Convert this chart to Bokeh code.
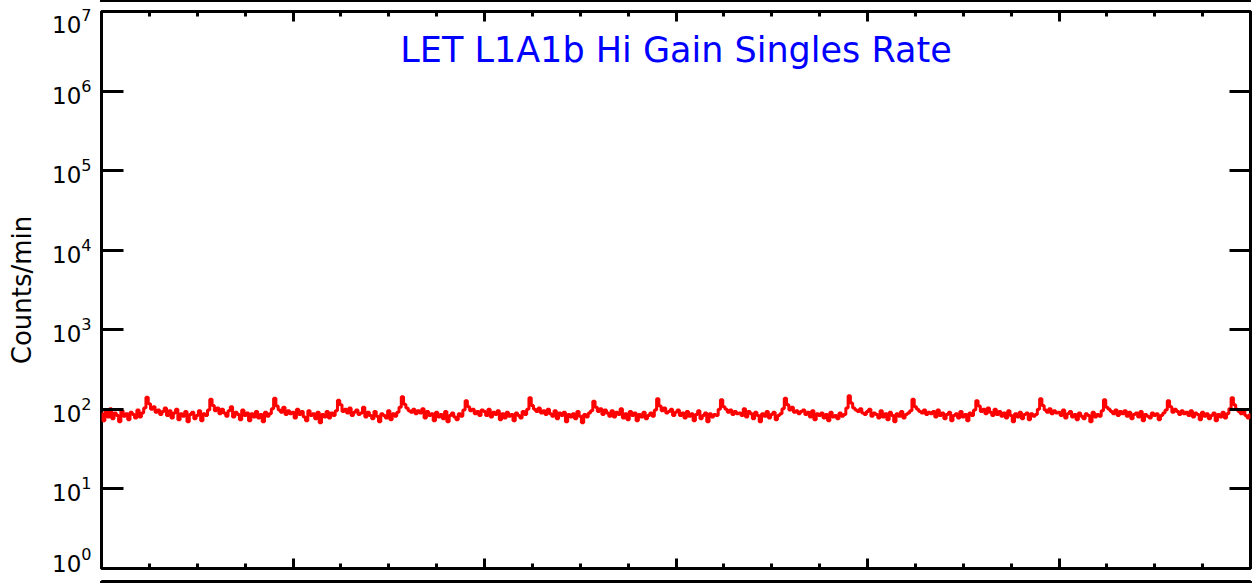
import numpy as np
from bokeh.plotting import figure
from bokeh.layouts import column, row
from bokeh.models import (FixedTicker, LogAxis, LinearAxis, Range1d, Label,
                          LogTickFormatter, Spacer)
from bokeh.embed import file_html
from bokeh.resources import INLINE

title_text = "LET L1A1b Hi Gain Singles Rate"
y_label = "Counts/min"
x_major = [0, 4, 8, 12, 16, 20, 24]
x_minor = list(range(25))
y_decades = [1e0, 1e1, 1e2, 1e3, 1e4, 1e5, 1e6, 1e7]

# singles rate over 24 h, 21 samples per hour
rate = [
    88, 72, 94, 80, 102, 76, 90, 84, 70, 96, 82, 88, 74, 92, 86, 78, 98, 80, 90, 104, 142, 118, 100, 108, 92, 98, 86, 94,
    104, 84, 96, 78, 90, 100, 74, 88, 82, 94, 70, 86, 92, 76, 84, 96, 72, 88, 84, 98, 134, 112, 96, 104, 88, 100, 90, 82,
    96, 108, 80, 92, 86, 74, 98, 84, 90, 72, 88, 80, 94, 78, 86, 70, 92, 82, 88, 102, 138, 110, 98, 92, 106, 86, 96, 88,
    92, 78, 100, 86, 94, 80, 72, 96, 84, 88, 76, 92, 68, 86, 80, 94, 78, 90, 84, 96, 130, 114, 94, 100, 90, 104, 84, 92,
    98, 86, 90, 106, 80, 92, 84, 76, 94, 82, 70, 88, 84, 78, 96, 74, 88, 82, 92, 106, 144, 116, 104, 96, 92, 100, 88, 96,
    90, 102, 78, 94, 84, 88, 72, 92, 80, 86, 76, 94, 70, 84, 90, 80, 74, 88, 82, 98, 128, 108, 96, 100, 88, 94, 84, 98,
    94, 84, 100, 80, 92, 86, 96, 74, 88, 78, 92, 82, 86, 72, 90, 84, 78, 94, 86, 100, 140, 112, 100, 94, 104, 90, 96, 86,
    100, 88, 82, 96, 76, 90, 84, 92, 70, 86, 80, 88, 76, 94, 82, 68, 86, 80, 90, 96, 126, 106, 94, 102, 86, 98, 90, 82,
    96, 80, 92, 86, 102, 78, 88, 74, 94, 84, 90, 72, 86, 80, 92, 76, 84, 90, 82, 98, 136, 110, 96, 104, 90, 94, 100, 84,
    92, 98, 84, 90, 78, 94, 82, 88, 72, 86, 96, 76, 84, 90, 70, 88, 80, 86, 84, 100, 132, 108, 100, 92, 98, 86, 94, 88,
    90, 84, 102, 80, 94, 88, 76, 92, 84, 70, 88, 82, 94, 78, 86, 92, 74, 84, 88, 102, 138, 114, 98, 106, 92, 96, 88, 94,
    98, 86, 92, 80, 96, 74, 88, 84, 90, 78, 86, 72, 92, 80, 84, 76, 90, 82, 86, 104, 148, 120, 104, 98, 94, 102, 90, 86,
    94, 100, 82, 90, 86, 78, 96, 80, 88, 74, 92, 84, 70, 88, 82, 94, 78, 86, 90, 96, 134, 108, 100, 94, 90, 98, 86, 92,
    88, 94, 80, 98, 84, 90, 76, 86, 92, 72, 84, 88, 78, 94, 80, 86, 72, 90, 84, 98, 128, 110, 94, 100, 88, 104, 92, 84,
    100, 86, 94, 82, 90, 78, 96, 84, 70, 88, 80, 92, 76, 86, 90, 74, 88, 82, 86, 100, 136, 112, 98, 92, 102, 88, 96, 90,
    92, 84, 98, 78, 88, 94, 80, 86, 74, 90, 82, 76, 88, 84, 70, 92, 80, 86, 82, 96, 132, 106, 100, 94, 88, 98, 84, 94,
    88, 96, 82, 92, 76, 86, 90, 80, 94, 72, 86, 82, 78, 90, 84, 88, 74, 84, 90, 98, 128, 108, 92, 100, 94, 86, 96, 88,
    92, 84, 96, 80, 90, 86, 74, 92, 82, 88, 76, 84, 90, 72, 86, 80, 92, 78, 88, 102, 140, 114, 100, 94, 88, 96, 84, 78,
    86,
]
hours = np.arange(len(rate)) * (24.0 / (len(rate) - 1))

FONT = "DejaVu Sans"
W = 1252
PX_PER_DECADE = 79.6
END_SHIFT = 9 / PX_PER_DECADE  # end labels sit 9 px inside the frame, as in the original

# label anchor values: ends nudged inward, the rest on their decades
label_at = [y_decades[0] * 10 ** END_SHIFT] + y_decades[1:-1] + [y_decades[-1] * 10 ** -END_SHIFT]

COMMON = dict(output_backend="svg", toolbar_location=None, min_border_left=101,
              min_border_right=2, border_fill_color="white")


def hide_labels(ax):
    ax.major_label_text_font_size = "1px"
    ax.major_label_text_color = None
    ax.major_label_standoff = 0


def style_x_axis(ax):
    ax.ticker = FixedTicker(ticks=x_major, minor_ticks=x_minor)
    ax.major_tick_in = 10
    ax.major_tick_out = 0
    ax.minor_tick_in = 5
    ax.minor_tick_out = 0
    ax.major_tick_line_width = 3
    ax.minor_tick_line_width = 3
    ax.major_tick_line_color = "black"
    ax.minor_tick_line_color = "black"
    ax.axis_line_color = None
    hide_labels(ax)


def style_y_ticks(ax, ticks, tick_len):
    ax.ticker = FixedTicker(ticks=ticks)
    ax.major_tick_in = tick_len
    ax.major_tick_out = 0
    ax.major_tick_line_width = 3
    ax.major_tick_line_color = "black"
    ax.minor_tick_line_color = None
    ax.axis_line_color = None
    hide_labels(ax)


# ---------------- bottom edge of the panel above ----------------
top_edge = row(Spacer(width=100, height=2),
               Spacer(width=1151, height=2, styles={"background-color": "black"}),
               spacing=0)

# ---------------- main panel ----------------
p = figure(width=W, height=571, x_range=Range1d(0, 24), y_range=Range1d(1, 1e7),
           y_axis_type="log", min_border_top=9, min_border_bottom=5,
           background_fill_color="white", **COMMON)
p.grid.visible = False
p.outline_line_color = "black"
p.outline_line_width = 3

p.step(hours, rate, mode="center", line_color="#ff0000", line_width=3)

style_x_axis(p.xaxis[0])
tx = LinearAxis()
style_x_axis(tx)
p.add_layout(tx, "above")

# left axis: labels at label_at (major, no tick marks), tick marks at the decades (minor)
ly = p.yaxis[0]
ly.ticker = FixedTicker(ticks=label_at, minor_ticks=y_decades)
ly.formatter = LogTickFormatter()
ly.major_tick_line_color = None
ly.major_tick_in = 0
ly.major_tick_out = 0
ly.minor_tick_in = 22
ly.minor_tick_out = 0
ly.minor_tick_line_width = 3
ly.minor_tick_line_color = "black"
ly.axis_line_color = None
ly.major_label_text_font = FONT
ly.major_label_text_font_size = "23px"
ly.major_label_text_color = "black"
ly.major_label_standoff = 10
ly.axis_label = y_label
ly.axis_label_text_font = FONT
ly.axis_label_text_font_size = "26px"
ly.axis_label_text_font_style = "normal"
ly.axis_label_text_color = "black"
ly.axis_label_standoff = 12

ry = LogAxis()
style_y_ticks(ry, y_decades, 21)
p.add_layout(ry, "right")

p.add_layout(Label(x=12, y=10 ** 6.516, text=title_text, text_align="center",
                   text_baseline="middle", text_font=FONT, text_font_size="35px",
                   text_color="#0000ff"))

# ---------------- top edge of the panel below ----------------
q = figure(width=W, height=10, x_range=Range1d(0, 24),
           y_range=Range1d(10 ** (7 - 4 / PX_PER_DECADE), 1e7),
           y_axis_type="log", x_axis_location=None, min_border_top=6,
           min_border_bottom=0, background_fill_color="white",
           outline_line_color=None, **COMMON)
q.grid.visible = False

qt = LinearAxis()
style_x_axis(qt)
qt.axis_line_width = 3
qt.axis_line_color = "black"
q.add_layout(qt, "above")

ql = q.yaxis[0]
style_y_ticks(ql, y_decades[-1:], 22)
ql.axis_line_width = 3
ql.axis_line_color = "black"

qr = LogAxis()
style_y_ticks(qr, y_decades[-1:], 21)
qr.axis_line_width = 3
qr.axis_line_color = "black"
q.add_layout(qr, "right")

layout = column(top_edge, p, q, spacing=0)
open("out.html", "w").write(file_html(layout, INLINE))
